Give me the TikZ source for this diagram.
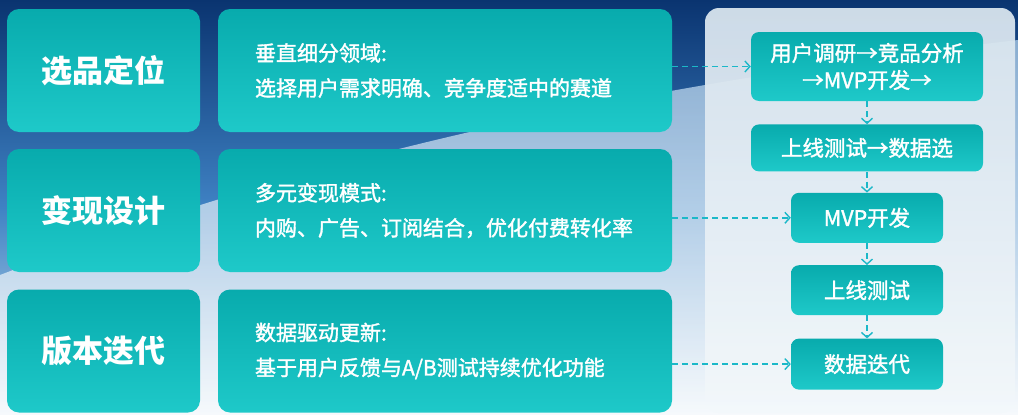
\documentclass[tikz,border=0pt]{standalone}
\usepackage{fontspec}
\setmainfont{Noto Sans CJK SC}
\newfontfamily\medfont[FakeBold=1.6]{Noto Sans CJK SC}
\usetikzlibrary{positioning,arrows.meta}
\definecolor{tealA}{HTML}{08ABAD}
\definecolor{tealB}{HTML}{1EC9C9}
\definecolor{navy}{HTML}{0A3470}
\definecolor{skyblue}{HTML}{3F82C4}
\definecolor{haze}{HTML}{D3E5F2}
\definecolor{panelA}{HTML}{D8E4EE}
\definecolor{panelB}{HTML}{F3F8FB}
\definecolor{linkc}{HTML}{1BB8C8}
\begin{document}
\begin{tikzpicture}[x=1pt,y=-1pt,
    stage/.style={rounded corners=12pt,top color=tealA,bottom color=tealB,text=white,
      minimum width=193pt,minimum height=123pt,font=\bfseries\fontsize{31}{36}\selectfont},
    note/.style={rounded corners=12pt,top color=tealA,bottom color=tealB,text=white,
      minimum width=454pt,minimum height=123pt,text width=380pt,inner xsep=37pt,align=left,
      font=\medfont\fontsize{21}{35}\selectfont},
    flowbox/.style={rounded corners=8pt,top color=tealA,bottom color=tealB,text=white,
      align=center,inner sep=0pt,font=\medfont\fontsize{21.5}{27}\selectfont},
    link/.style={linkc,line width=1.4pt,dash pattern=on 6pt off 4pt,
      -{Straight Barb[length=5pt,width=11pt,line width=1.4pt]}}]
  \useasboundingbox (0,0) rectangle (1018,415);
  \shade[top color=navy,bottom color=haze,middle color=skyblue] (0,0) rectangle (1018,415);
  \shade[top color=haze!70!skyblue,bottom color=white,opacity=0.8]
    (0,275) .. controls (300,160) and (600,90) .. (1018,40) -- (1018,415) -- (0,415) -- cycle;
  \shade[rounded corners=14pt,top color=panelA,bottom color=panelB,opacity=0.95]
    (705,8) rectangle (1015,413);

  \node[stage] (s1) at (103.5,70.5) {选品定位};
  \node[stage] (s2) at (103.5,210.5) {变现设计};
  \node[stage] (s3) at (103.5,351) {版本迭代};

  \node[note] (d1) at (445,70.5) {垂直细分领域:\\选择用户需求明确、竞争度适中的赛道};
  \node[note] (d2) at (445,210.5) {多元变现模式:\\内购、广告、订阅结合，优化付费转化率};
  \node[note] (d3) at (445,351) {数据驱动更新:\\基于用户反馈与A/B测试持续优化功能};

  \node[flowbox,minimum width=232pt,minimum height=69pt] (f1) at (867,66.5) {用户调研→竞品分析\\→MVP开发→};
  \node[flowbox,minimum width=232pt,minimum height=47pt,below=23pt of f1] (f2) {上线测试→数据选};
  \node[flowbox,minimum width=152pt,minimum height=50pt,below=21pt of f2] (f3) {MVP开发};
  \node[flowbox,minimum width=152pt,minimum height=50pt,below=22pt of f3] (f4) {上线测试};
  \node[flowbox,minimum width=152pt,minimum height=51pt,below=23pt of f4] (f5) {数据迭代};

  \foreach \a/\b in {f1/f2,f2/f3,f3/f4,f4/f5}
    \draw[link] (\a) -- (\b);
  \draw[link] (f1.west -| d1.east) -- (f1.west);
  \draw[link] (f3.west -| d2.east) -- (f3.west);
  \draw[link] (f5.west -| d3.east) -- (f5.west);
\end{tikzpicture}
\end{document}
